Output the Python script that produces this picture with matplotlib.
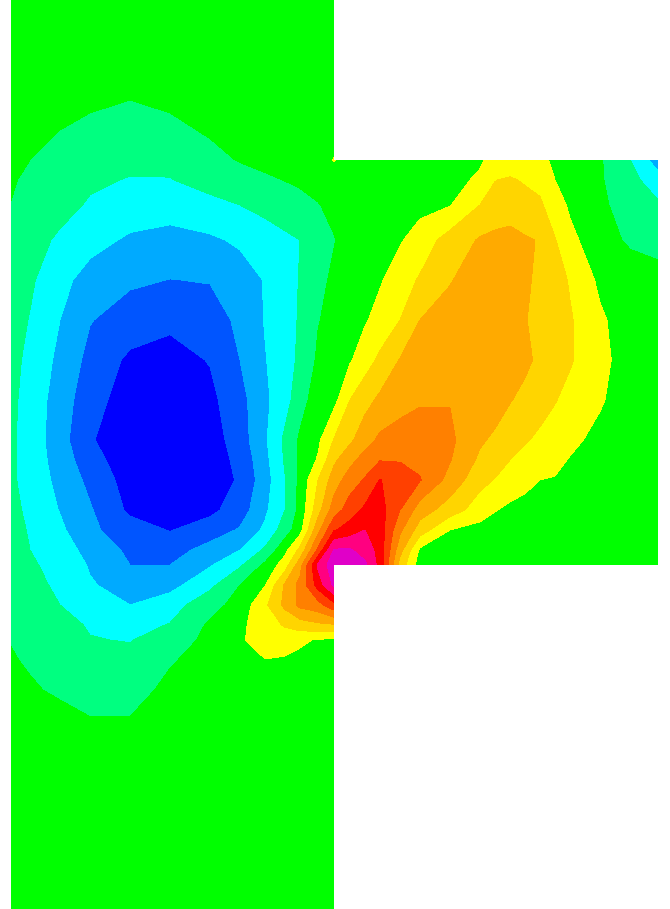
import numpy as np
import matplotlib
matplotlib.use("Agg")
import matplotlib.pyplot as plt

# mesh lines, in picture units (y runs downwards)
x_left = [11, 30, 60, 90, 130, 170, 210, 240, 265, 285, 300, 318, 334]
x_right = [350, 365, 380, 400, 420, 450, 480, 495, 510, 525, 540, 555, 570, 600, 630, 658]
y_rows = [0, 100, 130, 160, 180, 205, 240, 280, 320, 360, 400, 440, 460, 480, 510,
          530, 550, 565, 585, 605, 625, 640, 660, 690, 720, 760, 909]
y_right = [160, 180, 205, 240, 280, 320, 360, 400, 440, 460, 480, 510, 530, 550, 565]

# field on the tall left part
left_values = [
    [0, 0, 0, 0, 0, 0, 0, 0, 0, 0, 0, 0, 0],
    [0, 0, -.1, -.35, -.5, -.35, 0, 0, 0, 0, 0, 0, 0],
    [0, -.1, -.5, -.7, -.85, -.7, -.4, -.15, 0, 0, 0, 0, 0],
    [-.2, -.5, -.75, -1.05, -1.3, -1.2, -.75, -.45, -.25, -.1, 0, 0, .55],
    [-.4, -.7, -1.05, -1.35, -1.55, -1.55, -1.1, -.85, -.65, -.48, -.35, -.15, -.05],
    [-.52, -.85, -1.2, -1.6, -1.95, -2.05, -1.8, -1.5, -1.2, -.95, -.8, -.55, -.25],
    [-.8, -1.15, -1.65, -2.15, -2.65, -2.85, -2.65, -2.35, -2.0, -1.7, -1.5, -1.0, -.55],
    [-1.0, -1.35, -2.2, -2.9, -3.35, -3.52, -3.45, -2.95, -2.45, -1.9, -1.45, -.8, -.3],
    [-1.1, -1.55, -2.5, -3.45, -3.95, -4.3, -3.95, -3.3, -2.45, -1.9, -1.4, -.55, -.2],
    [-1.2, -1.75, -2.75, -3.8, -4.7, -4.85, -4.45, -3.5, -2.55, -1.95, -1.3, -.35, -.1],
    [-1.3, -1.85, -3.0, -4.1, -5.0, -5.1, -4.75, -3.85, -2.7, -1.9, -.9, 0, .2],
    [-1.35, -1.9, -3.1, -4.4, -5.2, -5.3, -5.0, -4.0, -2.65, -1.3, -.35, .3, 1.55],
    [-1.35, -1.9, -2.95, -4.1, -5.1, -5.3, -5.0, -4.25, -2.8, -1.4, -.3, .6, 2.3],
    [-1.35, -1.85, -2.8, -3.75, -4.95, -5.2, -4.95, -4.4, -2.95, -1.55, -.25, 1.5, 3.0],
    [-1.25, -1.7, -2.55, -3.4, -4.7, -5.2, -4.75, -4.0, -2.7, -1.5, -.2, 2.1, 4.0],
    [-1.1, -1.6, -2.3, -3.3, -4.05, -4.55, -4.0, -3.4, -2.3, -1.0, .1, 3.2, 5.4],
    [-.95, -1.5, -2.0, -2.85, -3.7, -3.9, -3.15, -2.5, -1.35, .2, 1.75, 4.7, 7.6],
    [-.85, -1.4, -1.75, -2.6, -3.5, -3.5, -2.6, -1.65, -.3, 1.0, 3.1, 6.7, 8.1],
    [-.75, -1.1, -1.75, -2.4, -2.95, -2.85, -1.75, -.5, .45, 2.65, 3.8, 5.9, 7.7],
    [-.65, -.9, -1.5, -1.95, -2.5, -1.95, -.85, -.15, 1.3, 2.75, 3.75, 4.1, 5.2],
    [-.55, -.75, -1.15, -1.6, -1.85, -1.45, -.35, .3, 1.0, 1.6, 2.0, 2.3, 2.4],
    [-.55, -.65, -1.0, -1.45, -1.55, -1.0, -.25, .4, .85, .9, .7, .4, .3],
    [-.4, -.65, -.95, -1.15, -1.2, -.6, -.1, .1, .48, .4, .2, .1, .05],
    [0, -.35, -.7, -.9, -.9, -.25, 0, 0, 0, 0, 0, 0, 0],
    [0, 0, -.1, -.45, -.45, 0, 0, 0, 0, 0, 0, 0, 0],
    [0, 0, 0, 0, 0, 0, 0, 0, 0, 0, 0, 0, 0],
    [0, 0, 0, 0, 0, 0, 0, 0, 0, 0, 0, 0, 0],
]

# field on the wide right part
right_values = [
    [0, 0, 0, 0, .05, .25, .42, .7, .95, .9, .7, .35, .1, -.4, -1.5, -3.0],
    [0, 0, 0, 0, .1, .3, .6, 1.48, 1.6, 1.4, 1.2, .5, .2, -.4, -1.15, -2.1],
    [0, 0, 0, .1, .2, .45, 1.5, 1.75, 1.9, 1.85, 1.65, .95, .35, -.35, -.85, -1.35],
    [-.1, 0, 0, .4, .95, 1.9, 2.6, 2.8, 2.9, 2.6, 2.45, 1.55, .75, -.1, -.65, -1.0],
    [-.05, .1, .4, 1.05, 1.6, 2.45, 2.9, 3.0, 3.0, 2.65, 2.3, 1.95, 1.4, .3, 0, 0],
    [0, .4, .85, 1.5, 2.5, 2.8, 3.0, 3.05, 3.0, 2.55, 2.2, 1.95, 1.6, .65, 0, 0],
    [.4, 1.05, 1.7, 2.55, 2.75, 3.0, 3.2, 3.1, 3.0, 2.7, 2.3, 1.95, 1.6, .8, 0, 0],
    [1.5, 2.15, 2.7, 3.15, 3.4, 3.45, 3.0, 3.0, 2.55, 2.25, 1.9, 1.55, 1.2, .6, 0, 0],
    [2.3, 3.1, 3.7, 3.9, 3.95, 3.7, 2.65, 2.3, 1.95, 1.6, 1.3, 1.05, .7, .25, 0, 0],
    [3.2, 3.9, 4.45, 4.45, 4.3, 3.55, 2.3, 1.9, 1.5, 1.15, .85, .7, .45, .15, 0, 0],
    [4.0, 4.6, 5.55, 4.9, 4.55, 3.15, 1.8, 1.45, 1.05, .75, .5, .45, .25, .05, 0, 0],
    [5.0, 5.7, 5.9, 4.5, 3.0, 2.0, 1.0, .55, .3, .2, .15, .05, 0, 0, 0, 0],
    [5.95, 6.5, 6.0, 3.7, 2.0, .5, .15, .05, 0, 0, 0, 0, 0, 0, 0, 0],
    [7.6, 7.05, 6.1, 2.85, .3, .1, 0, 0, 0, 0, 0, 0, 0, 0, 0, 0],
    [8.2, 7.7, 6.1, 2.1, 0, 0, 0, 0, 0, 0, 0, 0, 0, 0, 0, 0],
]

levels = [-9, -4.5, -3.5, -2.5, -1.5, -.5, .5, 1.5, 2.5, 3.5, 4.5, 5.5, 6.5, 7.5, 10]
band_colors = ["#0000ff", "#0055ff", "#00aaff", "#00ffff", "#00ff80", "#00ff00",
               "#ffff00", "#ffd500", "#ffaa00", "#ff8000", "#ff4000", "#ff0000",
               "#ff0080", "#e000c8"]


def build_field():
    xs = np.array(x_left + x_right, dtype=float)
    ys = np.array(y_rows, dtype=float)
    field = np.full((len(ys), len(xs)), np.nan)
    field[:, :len(x_left)] = np.array(left_values)
    first = y_rows.index(y_right[0])
    field[first:first + len(y_right), len(x_left):] = np.array(right_values)
    return xs, ys, np.ma.masked_invalid(field)


def main():
    xs, ys, field = build_field()

    fig = plt.figure(figsize=(6.7, 9.09), dpi=100)
    ax = fig.add_axes([0, 0, 1, 1])
    # corner_mask off so the notch corners stay square
    ax.contourf(xs, ys, field, levels=levels, colors=band_colors, corner_mask=False)
    ax.set_xlim(0, 670)
    ax.set_ylim(909, 0)
    ax.axis("off")
    fig.savefig("out.png", dpi=100)


if __name__ == "__main__":
    main()
